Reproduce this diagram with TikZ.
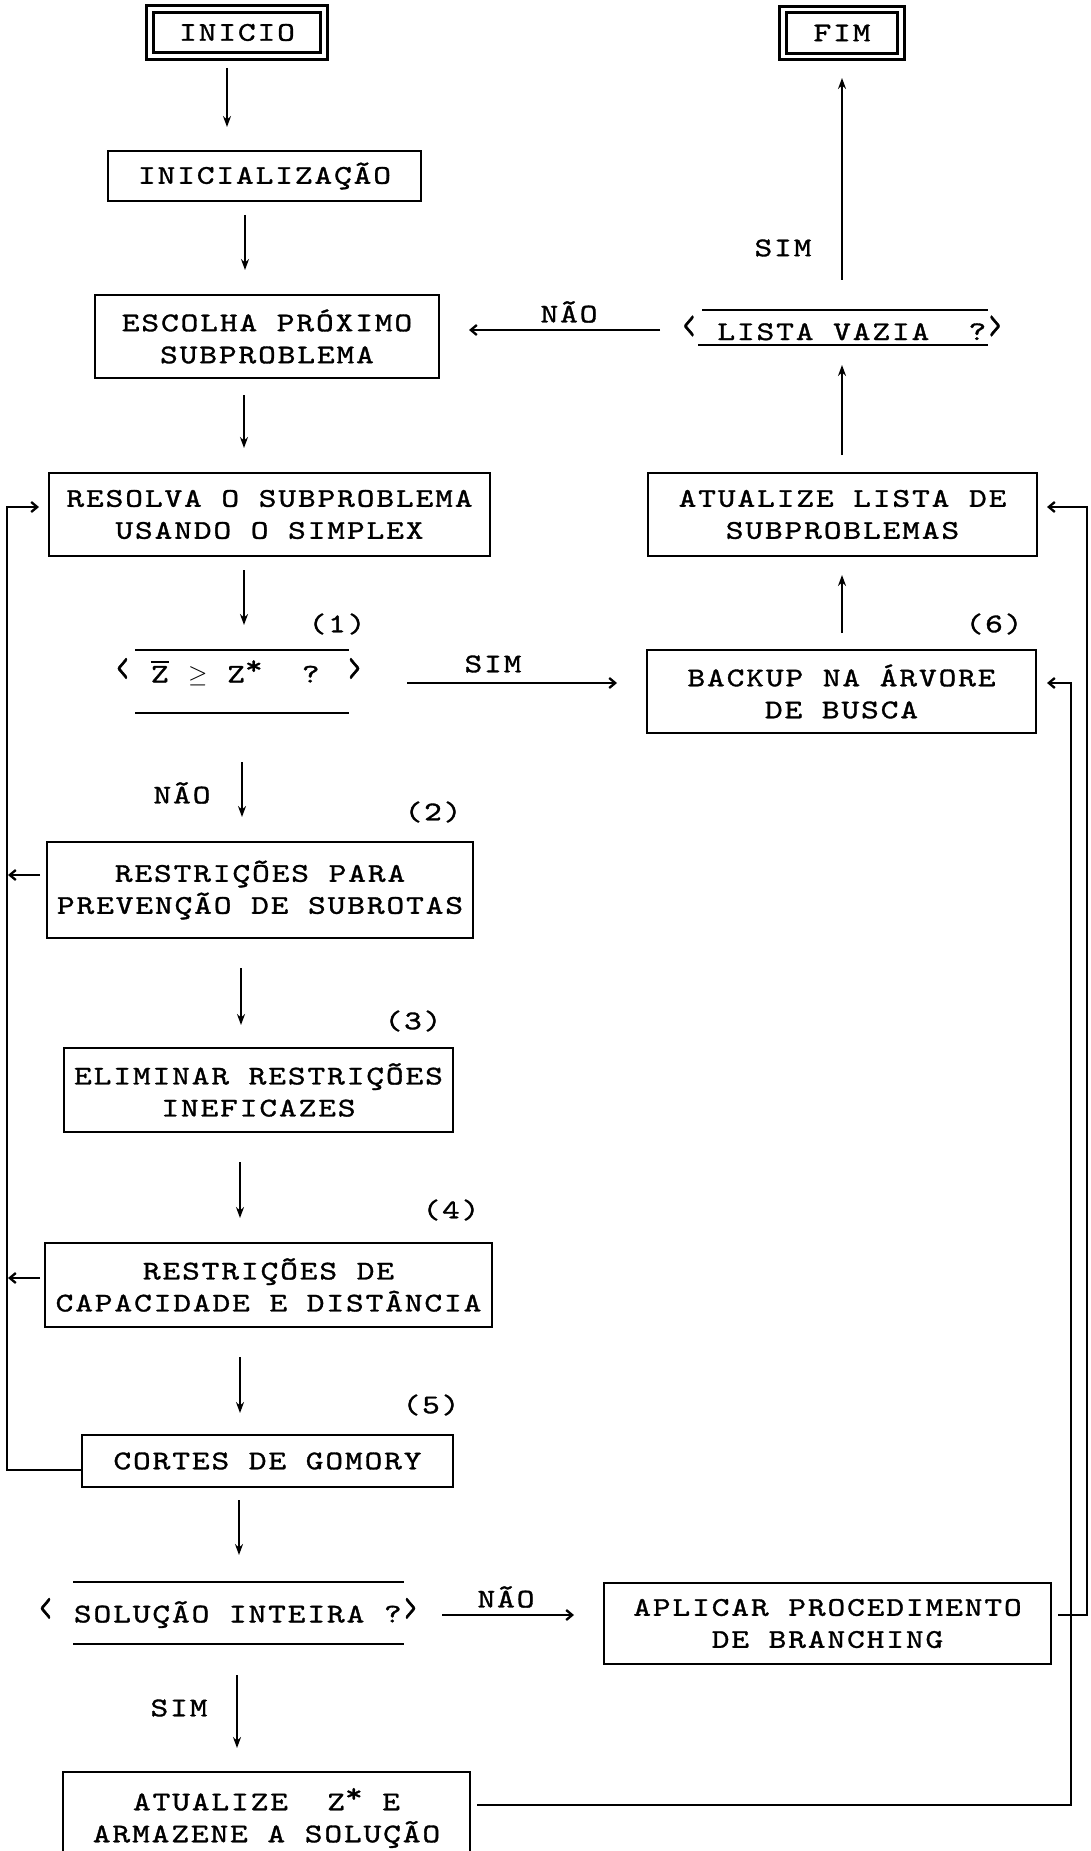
\documentclass[tikz,border=0pt]{standalone}
\usepackage{fontspec}
\newfontfamily\dm{lmmono10-regular.otf}[LetterSpace=7,FakeStretch=1.25,FakeBold=1.2]
\usetikzlibrary{arrows.meta}
\newcommand{\zbar}{\leavevmode\vbox{\hrule height 2.2pt\kern 3pt\hbox{Z}}}
\newcommand{\zstar}{Z\raisebox{0.3em}{*}}
\newcommand{\dlt}{\scalebox{1}[1.7]{‹}}
\newcommand{\dgt}{\scalebox{1}[1.7]{›}}
\begin{document}
\begin{tikzpicture}[x=1pt,y=-1pt,
  txt/.style={font=\dm\fontsize{27}{32}\selectfont, inner sep=0pt, outer sep=0pt, align=center},
  box/.style={txt, draw, line width=2.8pt},
  dbox/.style={txt, draw, line width=3pt, double, double distance=3.5pt},
  arr/.style={line width=2.5pt, -{Stealth[length=11pt,width=8pt]}},
  harr/.style={line width=2.3pt, -{Straight Barb[length=6pt,width=10pt]}},
  dline/.style={line width=2.2pt}]
\fill[white] (0,0) rectangle (1091,1851);
\useasboundingbox (0,0) rectangle (1091,1851);

% boxes
\node[dbox, minimum width=174pt, minimum height=47pt] (inicio) at (237,32.5) {INICIO};
\node[dbox, minimum width=118pt, minimum height=47pt] (fim) at (842,33) {FIM};
\node[box, minimum width=313pt, minimum height=50pt] (init) at (264.5,176) {INICIALIZAÇÃO};
\node[box, minimum width=344pt, minimum height=83pt] (escolha) at (267,336.5) {ESCOLHA PRÓXIMO\\SUBPROBLEMA};
\node[box, minimum width=441pt, minimum height=83pt] (resolva) at (269.5,514.5) {RESOLVA O SUBPROBLEMA\\USANDO O SIMPLEX};
\node[txt] (zdec) at (238.5,672) {\dlt{} \zbar{} \ensuremath{\geq} \zstar\ \ ? \dgt};
\node[box, minimum width=426pt, minimum height=96pt] (restr1) at (260,890) {RESTRIÇÕES PARA\\PREVENÇÃO DE SUBROTAS};
\node[box, minimum width=389pt, minimum height=84pt] (elim) at (258.5,1090) {ELIMINAR RESTRIÇÕES\\INEFICAZES};
\node[box, minimum width=447pt, minimum height=84pt] (restr2) at (268.5,1285) {RESTRIÇÕES DE\\CAPACIDADE E DISTÂNCIA};
\node[box, minimum width=371pt, minimum height=52pt] (cortes) at (267.5,1461) {CORTES DE GOMORY};
\node[txt] (soldec) at (228,1613) {\dlt{} SOLUÇÃO INTEIRA ?\dgt};
\node[box, minimum width=407pt, minimum height=92pt] (atz) at (266.5,1818) {ATUALIZE\ \ \zstar{} E\\ARMAZENE A SOLUÇÃO};
\node[box, minimum width=389pt, minimum height=83pt] (atl) at (842.5,514.5) {ATUALIZE LISTA DE\\SUBPROBLEMAS};
\node[box, minimum width=389pt, minimum height=83pt] (backup) at (841.5,691.5) {BACKUP NA ÁRVORE\\DE BUSCA};
\node[box, minimum width=447pt, minimum height=81pt] (aplicar) at (827.5,1623.5) {APLICAR PROCEDIMENTO\\DE BRANCHING};
\node[txt] (lista) at (842,328) {\dlt{} LISTA VAZIA\ \ ?\dgt};

% decision lines
\draw[dline] (702,310) -- (988,310);
\draw[dline] (698,345) -- (988,345);
\draw[dline] (135,650) -- (349,650);
\draw[dline] (135,713) -- (349,713);
\draw[dline] (73,1582) -- (404,1582);
\draw[dline] (73,1644) -- (404,1644);

% labels
\node[txt] (sim1) at (783,248) {SIM};
\node[txt] (nao1) at (569,312) {NÃO};
\node[txt] (sim2) at (493,664) {SIM};
\node[txt] (nao2) at (182,793) {NÃO};
\node[txt] (sim3) at (179,1708) {SIM};
\node[txt] (nao3) at (506,1597) {NÃO};
\node[txt] (n1) at (337,624) {(1)};
\node[txt] (n2) at (433,812) {(2)};
\node[txt] (n3) at (413,1021) {(3)};
\node[txt] (n4) at (451,1210) {(4)};
\node[txt] (n5) at (431,1405) {(5)};
\node[txt] (n6) at (994,624) {(6)};

% vertical arrows
\draw[arr] ([xshift=-10pt,yshift=-12pt]inicio.south) -- ([xshift=-37.5pt,yshift=24pt]init.north);
\draw[arr] ([xshift=-19.5pt,yshift=-14pt]init.south) -- ([xshift=-22pt,yshift=25pt]escolha.north);
\draw[arr] ([xshift=-23pt,yshift=-17pt]escolha.south) -- ([xshift=-25.5pt,yshift=25pt]resolva.north);
\draw[arr] ([xshift=-25.5pt,yshift=-14pt]resolva.south) -- ([xshift=5.5pt,yshift=47pt]zdec.center);
\draw[arr] ([xshift=3.5pt,yshift=-90pt]zdec.center) -- ([xshift=-18pt,yshift=25pt]restr1.north);
\draw[arr] ([xshift=-19pt,yshift=-30pt]restr1.south) -- ([xshift=-17.5pt,yshift=23pt]elim.north);
\draw[arr] ([xshift=-18.5pt,yshift=-30pt]elim.south) -- ([xshift=-28.5pt,yshift=25pt]restr2.north);
\draw[arr] ([xshift=-28.5pt,yshift=-30pt]restr2.south) -- ([xshift=-27.5pt,yshift=22pt]cortes.north);
\draw[arr] ([xshift=-28.5pt,yshift=-13pt]cortes.south) -- ([xshift=11pt,yshift=58pt]soldec.center);
\draw[arr] ([xshift=9pt,yshift=-62pt]soldec.center) -- ([xshift=-29.5pt,yshift=24pt]atz.north);
\draw[arr] ([xshift=0.5pt,yshift=17pt]backup.north) -- ([xshift=-0.5pt,yshift=-19pt]atl.south);
\draw[arr] ([xshift=-0.5pt,yshift=18pt]atl.north) -- ([yshift=-37pt]lista.center);
\draw[arr] ([yshift=48pt]lista.center) -- ([yshift=-21.5pt]fim.south);

% horizontal arrows
\draw[harr] ([xshift=214pt,yshift=-2pt]soldec.center) -- ([xshift=-30pt,yshift=8.5pt]aplicar.west);
\draw[harr] ([xshift=168.5pt,yshift=-11pt]zdec.center) -- ([xshift=-30pt,yshift=8.5pt]backup.west);
\draw[harr] ([xshift=-182pt,yshift=-2pt]lista.center) -- ([xshift=30pt,yshift=6.5pt]escolha.east);

% feedback loops
\draw[harr] ([xshift=7pt,yshift=8.5pt]aplicar.east) -- ++(29,0) |- ([xshift=10pt,yshift=7.5pt]atl.east);
\draw[harr] ([xshift=7pt,yshift=13pt]atz.east) -- ++(594,0) |- ([xshift=11pt,yshift=8.5pt]backup.east);
\draw[harr] ([yshift=-9pt]cortes.west) -- ++(-75,0) |- ([xshift=-10pt,yshift=7.5pt]resolva.west);
\draw[harr] ([xshift=-7pt,yshift=15pt]restr1.west) -- ([xshift=-39pt,yshift=15pt]restr1.west);
\draw[harr] ([xshift=-5pt,yshift=7pt]restr2.west) -- ([xshift=-37pt,yshift=7pt]restr2.west);
\end{tikzpicture}
\end{document}
